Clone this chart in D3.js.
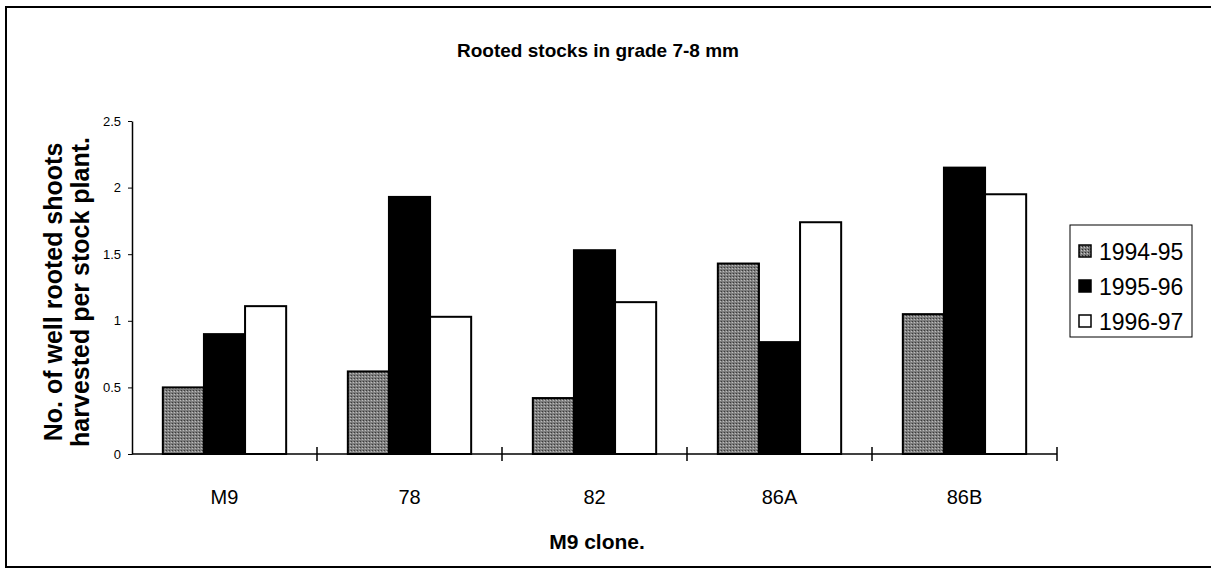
<!DOCTYPE html>
<html>
<head>
<meta charset="utf-8">
<script src="https://cdn.jsdelivr.net/npm/d3@7"></script>
<style>
  body { margin: 0; background: #fff; }
  svg { display: block; font-family: Arial, "Liberation Sans", sans-serif; }
</style>
</head>
<body>
<script>
// Values
const clones = ["M9", "78", "82", "86A", "86B"];
const seasons = ["1994-95", "1995-96", "1996-97"];
const v1994 = [0.50, 0.62, 0.42, 1.43, 1.05];
const v1995 = [0.90, 1.93, 1.53, 0.84, 2.15];
const v1996 = [1.11, 1.03, 1.14, 1.74, 1.95];
const yTicks = [0, 0.5, 1, 1.5, 2, 2.5];

const width = 1211, height = 576;

// Table built from the arrays above
const data = clones.map((c, i) => ({
  clone: c,
  "1994-95": v1994[i],
  "1995-96": v1995[i],
  "1996-97": v1996[i]
}));

const svg = d3.select("body").append("svg")
    .attr("width", width)
    .attr("height", height);

// Halftone-like grey for the first season
const defs = svg.append("defs");
const pat = defs.append("pattern")
    .attr("id", "grey")
    .attr("width", 3)
    .attr("height", 3)
    .attr("patternUnits", "userSpaceOnUse");
pat.append("rect").attr("width", 3).attr("height", 3).attr("fill", "#7e7e7e");
pat.append("rect").attr("width", 1).attr("height", 1).attr("fill", "#2e2e2e");
pat.append("rect").attr("x", 2).attr("y", 1).attr("width", 1).attr("height", 1).attr("fill", "#c8c8c8");

// Outer frame
svg.append("rect")
    .attr("x", 6)
    .attr("y", 7)
    .attr("width", 1215)
    .attr("height", 560)
    .attr("fill", "none")
    .attr("stroke", "#000")
    .attr("stroke-width", 2);

const margin = {left: 132, right: 154, top: 121, bottom: 122};

const x0 = d3.scaleBand()
    .domain(clones)
    .range([margin.left, width - margin.right])
    .paddingInner(1 / 3)
    .paddingOuter(1 / 6);

const x1 = d3.scaleBand()
    .domain(seasons)
    .range([0, x0.bandwidth()]);

const y = d3.scaleLinear()
    .domain([0, 2.5])
    .range([height - margin.bottom, margin.top]);

const fill = d3.scaleOrdinal()
    .domain(seasons)
    .range(["url(#grey)", "#000", "#fff"]);

// Bars
svg.append("g")
  .selectAll("g")
  .data(data)
  .join("g")
    .attr("transform", d => `translate(${x0(d.clone)},0)`)
  .selectAll("rect")
  .data(d => seasons.map(s => ({key: s, value: d[s]})))
  .join("rect")
    .attr("x", d => x1(d.key))
    .attr("y", d => y(d.value))
    .attr("width", x1.bandwidth())
    .attr("height", d => y(0) - y(d.value))
    .attr("fill", d => fill(d.key))
    .attr("stroke", "#000")
    .attr("stroke-width", 2);

// Y axis
const yAxis = svg.append("g")
    .attr("transform", `translate(${margin.left},0)`)
    .call(d3.axisLeft(y).tickValues(yTicks).tickFormat(d3.format("")).tickSize(4).tickSizeOuter(0));
yAxis.select(".domain").attr("stroke-width", 1.5);
yAxis.selectAll("text")
    .attr("font-size", 13)
    .attr("x", -11);

// X axis with crossing ticks between groups
const xAxis = svg.append("g")
    .attr("transform", `translate(0,${y(0)})`);
xAxis.append("line")
    .attr("x1", margin.left)
    .attr("x2", width - margin.right)
    .attr("stroke", "#000")
    .attr("stroke-width", 1.5);
xAxis.selectAll("line.tick")
  .data(clones)
  .join("line")
    .attr("class", "tick")
    .attr("x1", d => x0(d) + x0.bandwidth() + x0.step() * x0.paddingInner() / 2)
    .attr("x2", d => x0(d) + x0.bandwidth() + x0.step() * x0.paddingInner() / 2)
    .attr("y1", -7)
    .attr("y2", 7)
    .attr("stroke", "#000")
    .attr("stroke-width", 1.5);
xAxis.selectAll("text")
  .data(clones)
  .join("text")
    .attr("x", d => x0(d) + x0.bandwidth() / 2)
    .attr("y", 50)
    .attr("text-anchor", "middle")
    .attr("font-size", 20)
    .text(d => d);

// Titles
svg.append("text")
    .attr("x", 598)
    .attr("y", 57)
    .attr("text-anchor", "middle")
    .attr("font-size", 19)
    .attr("font-weight", "bold")
    .text("Rooted stocks in grade 7-8 mm");

svg.append("text")
    .attr("x", 597)
    .attr("y", 549)
    .attr("text-anchor", "middle")
    .attr("font-size", 21)
    .attr("font-weight", "bold")
    .text("M9 clone.");

const yTitle = svg.append("text")
    .attr("transform", "translate(0,292) rotate(-90)")
    .attr("text-anchor", "middle")
    .attr("font-size", 25)
    .attr("font-weight", "bold");
yTitle.append("tspan").attr("x", 0).attr("y", 62).text("No. of well rooted shoots");
yTitle.append("tspan").attr("x", 0).attr("y", 89).text("harvested per stock plant.");

// Legend
const legend = svg.append("g")
    .attr("transform", "translate(1070,225)");
legend.append("rect")
    .attr("width", 122)
    .attr("height", 112)
    .attr("fill", "#fff")
    .attr("stroke", "#000")
    .attr("stroke-width", 1);
legend.selectAll("g")
  .data(seasons)
  .join("g")
    .attr("transform", (d, i) => `translate(9,${27 + i * 35})`)
    .call(g => g.append("rect")
        .attr("y", -7)
        .attr("width", 12)
        .attr("height", 12)
        .attr("fill", fill)
        .attr("stroke", "#000")
        .attr("stroke-width", 1.5))
    .call(g => g.append("text")
        .attr("x", 20)
        .attr("y", 8)
        .attr("font-size", 23)
        .text(d => d));
</script>
</body>
</html>
